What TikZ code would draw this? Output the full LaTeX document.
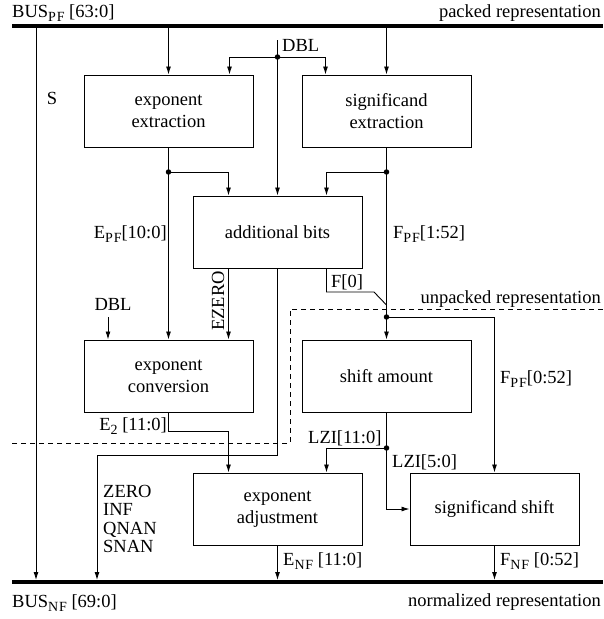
\documentclass[tikz,border=0pt]{standalone}
\usepackage{fontspec}
\setmainfont{Liberation Serif}
\usetikzlibrary{arrows.meta,calc}
\newcommand\lowsub[1]{\raisebox{-0.25em}{\fontsize{14}{14}\selectfont\addfontfeature{LetterSpace=6}#1}}

\begin{document}
\begin{tikzpicture}[x=1pt,y=-1pt,
  font=\fontsize{18.5}{22}\selectfont,
  box/.style={draw,line width=1pt,minimum width=169pt,minimum height=72pt,align=center,inner sep=0pt},
  wire/.style={line width=0.9pt},
  arr/.style={wire,-{Latex[length=8pt,width=5pt]}},
  bus/.style={line width=4pt},
  dot/.style={circle,fill,inner sep=0pt,minimum size=5.5pt},
  lbl/.style={inner sep=0pt},
  divider/.style={wire,dash pattern=on 5pt off 4pt},
  ]
\useasboundingbox (0,0) rectangle (603,619);

% buses
\coordinate (tbL) at (12,26);  \coordinate (tbR) at (603,26);
\coordinate (bbL) at (12,582); \coordinate (bbR) at (603,582);
\coordinate (bbTop) at (12,580);
\draw[bus] (tbL) -- (tbR);
\draw[bus] (bbL) -- (bbR);

% functional blocks
\node[box] (ee) at (168.5,111) {exponent\\extraction};
\node[box] (se) at (386.5,111) {significand\\extraction};
\node[box] (ab) at (277.5,232) {additional bits};
\node[box] (ec) at (168.5,376) {exponent\\conversion};
\node[box] (sa) at (386.5,376) {shift amount};
\node[box] (ea) at (277.5,509) {exponent\\adjustment};
\node[box] (ss) at (494.5,509) {significand shift};

% branch points
\node[dot] (d1) at (277.5,57) {};
\node[dot] (d2) at (168.5,172) {};
\node[dot] (d3) at (386.5,172) {};
\node[dot] (d4) at (386.5,317) {};
\node[dot] (d5) at (386.5,448) {};

% sign bit straight through
\coordinate (sTop) at (36,26);
\draw[arr] (sTop) -- (sTop |- bbTop);

% packed bus into the extraction blocks
\draw[arr] (ee.north |- tbL) -- (ee.north);
\draw[arr] (se.north |- tbL) -- (se.north);

% DBL distribution
\coordinate (dblTop) at (277.5,40);
\draw[arr] (dblTop) -- (ab.north);
\draw[arr] (d1) -| ([xshift=-24pt]ee.north east);
\draw[arr] (d1) -| ([xshift=24pt]se.north west);

% exponent path
\draw[arr] (ee.south) -- (ec.north);
\draw[arr] (d2) -| ([xshift=36pt]ab.north west);
\draw[arr] ([xshift=36pt]ab.south west) -- ([xshift=36pt]ab.south west |- ec.north);
\coordinate (dbl2) at (108,317);
\draw[arr] (dbl2) -- (dbl2 |- ec.north);

% significand path
\draw[arr] (se.south) -- (sa.north);
\draw[arr] (d3) -| ([xshift=-36pt]ab.north east);
\coordinate (f0a) at (374,292);
\coordinate (f0join) at (386.5,305);
\draw[wire] ([xshift=-36pt]ab.south east) |- (f0a) -- (f0join);
\draw[arr] (d4) -| (ss.north);

% special-value flags
\coordinate (flagBend) at (97,455);
\draw[arr] (ab.south) |- (flagBend) -- (flagBend |- bbTop);

% exponent conversion to adjustment
\coordinate (e2bend) at (168.5,431);
\draw[arr] (ec.south) -- (e2bend) -| ([xshift=36pt]ea.north west);

% leading-zero count
\draw[arr] (sa.south) -- (sa.south |- ss.west) -- (ss.west);
\draw[arr] (d5) -| ([xshift=-36pt]ea.north east);

% outputs to the normalized bus
\draw[arr] (ea.south) -- (ea.south |- bbTop);
\draw[arr] (ss.south) -- (ss.south |- bbTop);

% packed / unpacked boundary
\coordinate (dvR) at (603,309);
\coordinate (dvA) at (290,309);
\coordinate (dvB) at (290,443);
\coordinate (dvL) at (12,443);
\draw[divider] (dvR) -- (dvA) -- (dvB) -- (dvL);

% labels
\node[lbl,anchor=base west] (lBusPF) at (12,17) {BUS\lowsub{PF} [63:0]};
\node[lbl,anchor=base east] (lPacked) at (601,17) {packed representation};
\node[lbl,anchor=base] (lS) at (52,104) {S};
\node[lbl,anchor=base west] (lDbl) at (282,51) {DBL};
\node[lbl,anchor=base east] (lEpf) at (167,238) {E\lowsub{PF}[10:0]};
\node[lbl,anchor=base west] (lFpf) at (393,238) {F\lowsub{PF}[1:52]};
\node[lbl,anchor=base] (lDbl2) at (113,310) {DBL};
\node[lbl,rotate=90] (lEzero) at (218,301) {EZERO};
\node[lbl,anchor=base west] (lF0) at (331,287) {F[0]};
\node[lbl,anchor=base east] (lUnpacked) at (601,303) {unpacked representation};
\node[lbl,anchor=base west] (lFpf2) at (500,383) {F\lowsub{PF}[0:52]};
\node[lbl,anchor=base east] (lE2) at (167,430) {E\lowsub{2} [11:0]};
\node[lbl,anchor=base west] (lLzi) at (308,443) {LZI[11:0]};
\node[lbl,anchor=base west] (lLzi5) at (392,467) {LZI[5:0]};
\node[lbl,anchor=base west] (lZero) at (103,497) {ZERO};
\node[lbl,anchor=base west] (lInf) at (103,515) {INF};
\node[lbl,anchor=base west] (lQnan) at (103,534) {QNAN};
\node[lbl,anchor=base west] (lSnan) at (103,552) {SNAN};
\node[lbl,anchor=base west] (lEnf) at (283,565) {E\lowsub{NF} [11:0]};
\node[lbl,anchor=base west] (lFnf) at (500,565) {F\lowsub{NF} [0:52]};
\node[lbl,anchor=base west] (lBusNF) at (12,607) {BUS\lowsub{NF} [69:0]};
\node[lbl,anchor=base east] (lNorm) at (601,606) {normalized representation};
\end{tikzpicture}
\end{document}
